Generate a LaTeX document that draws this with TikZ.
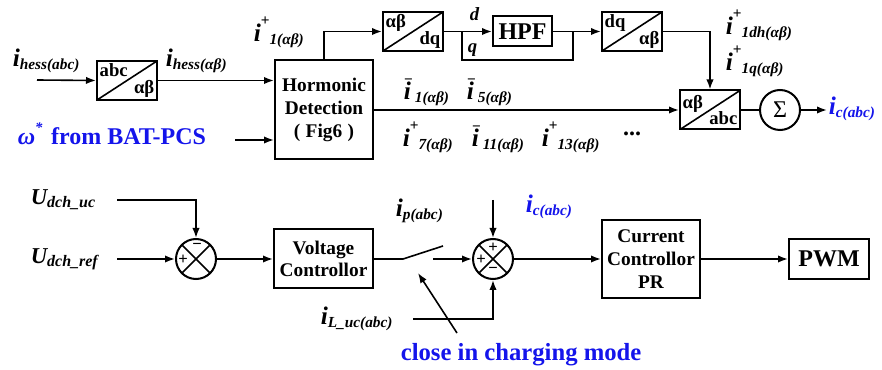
\documentclass[tikz,border=0pt]{standalone}
\usepackage{fontspec}
\setmainfont{Liberation Serif}
\usetikzlibrary{arrows.meta}
\definecolor{sigblue}{RGB}{20,20,235}

% signal labels: main letter, superscript, subscript
\newcommand{\sgl}[3]{{\fontsize{19}{19}\selectfont\bfseries\itshape #1}%
  {\fontsize{11.5}{11.5}\selectfont\bfseries\raisebox{12pt}{#2}\raisebox{-2pt}{\itshape #3}}}
\newcommand{\ineg}[1]{{\fontsize{19}{19}\selectfont\bfseries\itshape i}%
  {\fontsize{11.5}{11.5}\selectfont\bfseries\raisebox{11.5pt}{\llap{−\kern-1.5pt}}\kern3pt\raisebox{-2pt}{\itshape #1}}}
\newcommand{\tf}[2]{\makebox[41pt][l]{#1}\\[-1pt]\makebox[41pt][r]{#2}}

\begin{document}
\begin{tikzpicture}[x=0.75pt, y=-0.75pt,
    >={Latex[length=7.5pt,width=5.5pt]},
    line width=1.2pt,
    blk/.style={rectangle, draw, line width=1.5pt, inner sep=0pt, align=center, font=\fontsize{14.5}{17}\selectfont\bfseries},
    conv/.style={blk, minimum width=45pt, minimum height=29.25pt, font=\fontsize{14}{13.5}\selectfont\bfseries,
        path picture={\draw[line width=1.2pt] (path picture bounding box.south west) -- (path picture bounding box.north east);}},
    sumc/.style={circle, draw, line width=1.5pt, minimum size=30pt, inner sep=0pt},
    cross/.style={sumc, path picture={\draw[line width=1.2pt] (path picture bounding box.south west) -- (path picture bounding box.north east)
        (path picture bounding box.north west) -- (path picture bounding box.south east);}},
    lbl/.style={inner sep=0pt, anchor=base west},
    sgn/.style={inner sep=0pt, font=\fontsize{12.5}{12.5}\selectfont\bfseries},
]
    \useasboundingbox (0,0) rectangle (882,370);

    % harmonic detection path
    \node[conv] (c1) at (127,80.5) {\tf{abc}{αβ}};
    \node[blk, minimum width=73.5pt, minimum height=74.25pt] (hd) at (324,110) {Hormonic\\Detection\\(\;Fig6\;)};
    \node[conv] (c2) at (413,31.5) {\tf{αβ}{dq}};
    \node[blk, minimum width=44.25pt, minimum height=22.5pt, font=\fontsize{18}{18}\selectfont\bfseries] (hpf) at (522.5,31.5) {HPF};
    \node[conv] (c3) at (632,31.5) {\tf{dq}{αβ}};
    \node[conv] (c4) at (710,110) {\tf{αβ}{abc}};
    \node[sumc] (sig) at (780,110) {\fontsize{18}{18}\selectfont Σ};

    \coordinate (in1) at (37,80);
    \coordinate (in2) at (235,140);
    \coordinate (dsp) at (462,31.5);
    \coordinate (qj) at (573,31.5);
    \coordinate (out) at (827,110);

    \draw[->] (in1) -- (c1.west);
    \draw[->] (c1.east) -- (c1.east -| hd.west);
    \draw[->] (in2) -- (in2 -| hd.west);
    \draw[->] (hd.north) |- (c2.west);
    \draw (c2.east) -- (dsp);
    \draw[->] (dsp) -- (hpf.west);
    \draw (dsp) -- ++(0,28.5) -| (qj);
    \draw (hpf.east) -- (qj);
    \draw[->] (qj) -- (c3.west);
    \draw[->] (c3.east) -| (c4.north);
    \draw[->] (hd.east) -- (hd.east -| c4.west);
    \draw (c4.east) -- (sig.west);
    \draw[->] (sig.east) -- (out);

    \node[lbl] (lhabc) at (12,67) {\sgl{i}{}{hess(abc)}};
    \node[lbl] (lhab) at (165,67) {\sgl{i}{}{hess(αβ)}};
    \node[lbl] (lp1) at (253,42) {\sgl{i}{+}{1(αβ)}};
    \node[lbl, font=\fontsize{14}{14}\selectfont\bfseries\itshape] (ld) at (469,21) {d};
    \node[lbl, font=\fontsize{14}{14}\selectfont\bfseries\itshape] (lq) at (467,53) {q};
    \node[lbl] (lp1dh) at (725,35) {\sgl{i}{+}{1dh(αβ)}};
    \node[lbl] (lp1q) at (725,71) {\sgl{i}{+}{1q(αβ)}};
    \node[lbl] (ln1) at (403,100) {\ineg{1(αβ)}};
    \node[lbl] (ln5) at (466,100) {\ineg{5(αβ)}};
    \node[lbl] (lp7) at (402,147) {\sgl{i}{+}{7(αβ)}};
    \node[lbl] (ln11) at (471,147) {\ineg{11(αβ)}};
    \node[lbl] (lp13) at (541,147) {\sgl{i}{+}{13(αβ)}};
    \node[inner sep=0pt, font=\fontsize{18}{18}\selectfont\bfseries] (dots) at (632,134) {...};
    \node[lbl, text=sigblue] (lic) at (828,115) {\sgl{i}{}{c(abc)}};
    \node[lbl, text=sigblue, font=\fontsize{18}{18}\selectfont\bfseries] (lw) at (17,145) {{\itshape ω}\raisebox{9pt}{\fontsize{11}{11}\selectfont\itshape *}\kern2pt{} from BAT-PCS};

    % charging control path
    \node[cross] (s1) at (196,259) {};
    \node[sgn] (s1t) at (197,246) {−};
    \node[sgn] (s1l) at (183,259.5) {+};
    \node[blk, minimum width=74.25pt, minimum height=44.25pt] (vc) at (323.5,259) {Voltage\\Controllor};
    \node[cross] (s2) at (493,259) {};
    \node[sgn] (s2t) at (493,248) {+};
    \node[sgn] (s2l) at (481,259.5) {+};
    \node[sgn] (s2b) at (493,270.5) {−};
    \node[blk, minimum width=73.5pt, minimum height=58.5pt] (cc) at (651,259) {Current\\Controllor\\PR};
    \node[blk, minimum width=60pt, minimum height=30pt, font=\fontsize{18}{18}\selectfont\bfseries] (pwm) at (829,259) {PWM};

    \coordinate (u1) at (117,200);
    \coordinate (u2) at (117,259);
    \coordinate (sw1) at (403,259);
    \coordinate (sw2) at (443,246);
    \coordinate (sw3) at (433,259);
    \coordinate (icin) at (493,200);
    \coordinate (ilin) at (413,319);
    \coordinate (cl1) at (457,333);
    \coordinate (cl2) at (418,273);

    \draw[->] (u1) -| (s1.north);
    \draw[->] (u2) -- (s1.west);
    \draw[->] (s1.east) -- (vc.west);
    \draw (vc.east) -- (sw1) -- (sw2);
    \draw[->] (sw3) -- (s2.west);
    \draw[->] (icin) -- (s2.north);
    \draw[->] (ilin) -| (s2.south);
    \draw[->] (cl1) -- (cl2);
    \draw[->] (s2.east) -- (cc.west);
    \draw[->] (cc.east) -- (pwm.west);

    \node[lbl] (lu1) at (30,205) {{\fontsize{17}{17}\selectfont\bfseries\itshape U}\raisebox{-2pt}{\fontsize{12}{12}\selectfont\bfseries\itshape dch\_uc}};
    \node[lbl] (lu2) at (30,264) {{\fontsize{17}{17}\selectfont\bfseries\itshape U}\raisebox{-2pt}{\fontsize{12}{12}\selectfont\bfseries\itshape dch\_ref}};
    \node[lbl] (lip) at (395,217) {\sgl{i}{}{p(abc)}};
    \node[lbl, text=sigblue] (lic2) at (525,213) {\sgl{i}{}{c(abc)}};
    \node[lbl] (lil) at (320,325) {\sgl{i}{}{L\_uc(abc)}};
    \node[lbl, text=sigblue, font=\fontsize{18.5}{18.5}\selectfont\bfseries] (lcl) at (400,360) {close in charging mode};
\end{tikzpicture}
\end{document}
